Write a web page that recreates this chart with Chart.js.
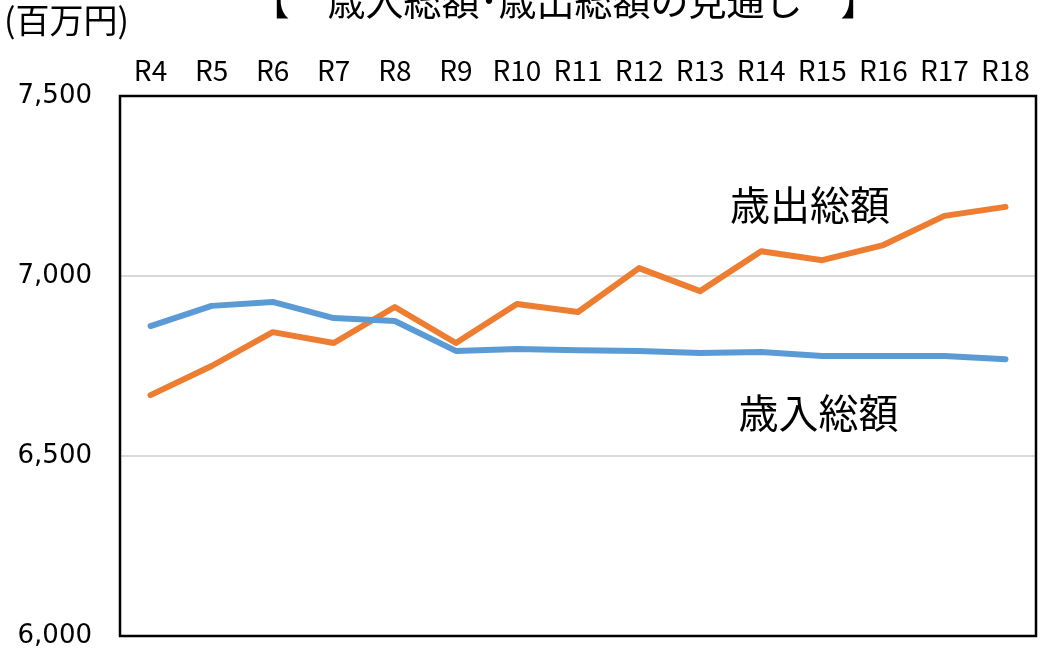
<!DOCTYPE html>
<html>
<head>
<meta charset="utf-8">
<script src="https://cdn.jsdelivr.net/npm/chart.js@4"></script>
<style>
  html, body { margin: 0; padding: 0; background: #fff; }
</style>
</head>
<body>
<canvas id="lineChart" width="1054" height="651"></canvas>
<script>
const years = ["R4", "R5", "R6", "R7", "R8", "R9", "R10", "R11", "R12", "R13", "R14", "R15", "R16", "R17", "R18"];
const revenue = [6861, 6917, 6928, 6883, 6875, 6792, 6797, 6794, 6792, 6786, 6789, 6778, 6778, 6778, 6769];
const expenditure = [6669, 6750, 6844, 6814, 6914, 6814, 6922, 6900, 7022, 6958, 7069, 7044, 7086, 7167, 7192];
const yTicks = [6000, 6500, 7000, 7500];

const chartTitle = "【　歳入総額･歳出総額の見通し　】";
const unitLabel = "(百万円)";
// series labels placed inside the plot: [text, category index, value]
const seriesLabels = [
    ["歳出総額", 10.8, 7197],
    ["歳入総額", 10.94, 6619]
];

const jpFont = "'Noto Sans CJK JP', 'Noto Sans', sans-serif";

// frame + text drawn on top of the chart
const decorations = {
    id: "decorations",
    afterDraw(chart) {
        const { ctx, chartArea, scales } = chart;
        ctx.save();
        ctx.strokeStyle = "#000";
        ctx.lineWidth = 2.5;
        ctx.strokeRect(chartArea.left, chartArea.top, chartArea.right - chartArea.left, chartArea.bottom - chartArea.top);

        ctx.fillStyle = "#000";
        ctx.textBaseline = "middle";
        ctx.textAlign = "center";
        ctx.font = "38px " + jpFont;
        ctx.fillText(chartTitle, 565, 1);

        ctx.textAlign = "left";
        ctx.font = "34px " + jpFont;
        ctx.fillText(unitLabel, 4, 20);

        ctx.textAlign = "center";
        ctx.font = "40px " + jpFont;
        seriesLabels.forEach(([text, idx, val]) => {
            ctx.fillText(text, scales.x.getPixelForValue(idx), scales.y.getPixelForValue(val));
        });
        ctx.restore();
    }
};

new Chart(document.getElementById("lineChart"), {
    type: "line",
    data: {
        labels: years,
        datasets: [
            {
                label: "歳入総額",
                data: revenue,
                borderColor: "#5b9bd5",
                borderWidth: 6,
                pointRadius: 0,
                borderCapStyle: "round",
                borderJoinStyle: "round",
                tension: 0
            },
            {
                label: "歳出総額",
                data: expenditure,
                borderColor: "#ed7d31",
                borderWidth: 6,
                pointRadius: 0,
                borderCapStyle: "round",
                borderJoinStyle: "round",
                tension: 0
            }
        ]
    },
    options: {
        responsive: false,
        animation: false,
        layout: { padding: { top: 0, right: 18, bottom: 15, left: 0 } },
        plugins: {
            legend: { display: false },
            tooltip: { enabled: false }
        },
        scales: {
            x: {
                position: "top",
                offset: true,
                grid: { display: false, drawTicks: false },
                border: { display: false },
                ticks: {
                    color: "#000",
                    padding: 9,
                    font: { family: jpFont, size: 28 }
                },
                afterFit(scale) { scale.height = 96; }
            },
            y: {
                min: 6000,
                max: 7500,
                afterBuildTicks(scale) { scale.ticks = yTicks.map(v => ({ value: v })); },
                grid: { color: "#d9d9d9", lineWidth: 2, drawTicks: false },
                border: { display: false },
                ticks: {
                    color: "#000",
                    padding: 28,
                    font: { family: "'DejaVu Sans', sans-serif", size: 26 },
                    callback: v => v.toLocaleString("en-US")
                },
                afterFit(scale) {
                    scale.width = 120;
                    scale.paddingTop = 0;
                    scale.paddingBottom = 0;
                }
            }
        }
    },
    plugins: [decorations]
});
</script>
</body>
</html>
